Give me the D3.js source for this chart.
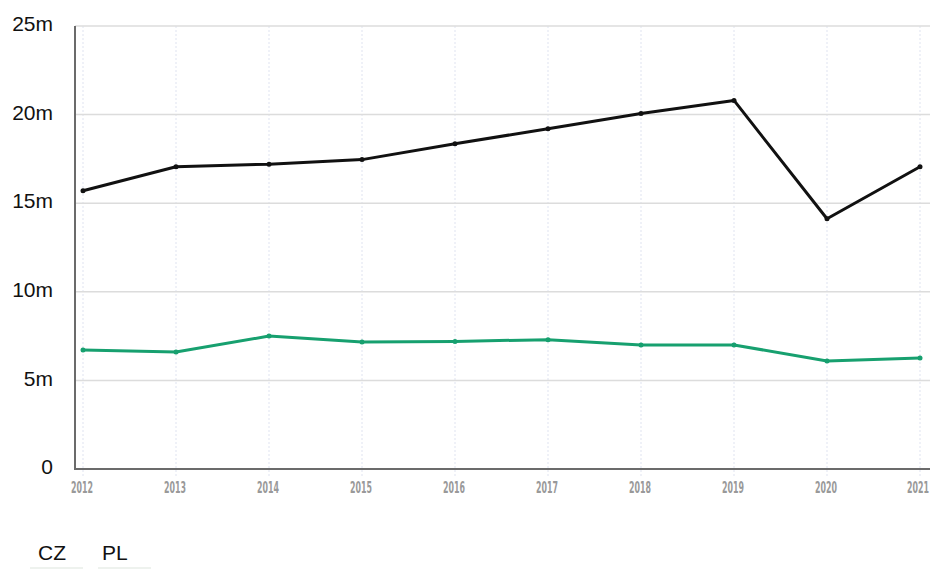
<!DOCTYPE html>
<html><head><meta charset="utf-8">
<script src="https://cdn.jsdelivr.net/npm/d3@7"></script>
<style>body{margin:0;background:#fff}svg{display:block}</style>
</head><body>
<svg id="c" width="932" height="569"></svg>
<script>
const years = [2012,2013,2014,2015,2016,2017,2018,2019,2020,2021];
const czValues = [15.7,17.06,17.2,17.46,18.36,19.2,20.06,20.8,14.12,17.06];
const plValues = [6.72,6.6,7.5,7.17,7.2,7.3,7.0,7.0,6.1,6.27];
const yTicks = [0,5,10,15,20,25];
const seriesNames = ["CZ","PL"];
const seriesColors = ["#111111","#17a06f"];

const svg = d3.select("#c");
const mLeft = 75, mRight = 930, mTop = 26, mBottom = 469;
const x = d3.scalePoint().domain(years).range([83, 920]);
const y = d3.scaleLinear().domain([0,25]).range([mBottom, mTop]);

// vertical grid
svg.append("g").selectAll("line").data(years).join("line")
  .attr("x1", d=>x(d)).attr("x2", d=>x(d)).attr("y1", mTop).attr("y2", mBottom+9)
  .attr("stroke","#dfe3f0").attr("stroke-width",1).attr("stroke-dasharray","2,2");
// horizontal grid
svg.append("g").selectAll("line").data(yTicks.filter(d=>d>0)).join("line")
  .attr("x1", mLeft).attr("x2", mRight).attr("y1", d=>y(d)).attr("y2", d=>y(d))
  .attr("stroke","#dcdcdc").attr("stroke-width",1.5);

// y axis
const yAxis = d3.axisLeft(y).tickValues(yTicks).tickSize(0).tickPadding(22)
  .tickFormat(d => d===0 ? "0" : d + "m");
const gy = svg.append("g").attr("transform",`translate(${mLeft},0)`).call(yAxis);
gy.select(".domain").remove();
gy.selectAll("text").attr("font-family","Liberation Sans, Arial, sans-serif")
  .attr("font-size",21).attr("fill","#111").attr("dy","0.22em");

// x axis
const xAxis = d3.axisBottom(x).tickSize(0).tickPadding(14);
const gx = svg.append("g").attr("transform",`translate(0,${mBottom})`).call(xAxis);
gx.select(".domain").remove();
const lastYear = years[years.length-1];
gx.selectAll("text").attr("font-family","DejaVu Sans Condensed, DejaVu Sans, sans-serif")
  .attr("font-weight","bold").attr("font-size",16).attr("fill","#999999")
  .attr("textLength",22).attr("lengthAdjust","spacingAndGlyphs")
  .attr("x", d => d===lastYear ? 8.5 : -1.5)
  .attr("text-anchor", d => d===lastYear ? "end" : "middle")
  .attr("dy","0.62em");

// axis lines
svg.append("path").attr("d",`M${mLeft},${mTop}V${mBottom}H${mRight}`)
  .attr("fill","none").attr("stroke","#6b6b6b").attr("stroke-width",2);

// lines
const line = d3.line().x((d,i)=>x(years[i])).y(d=>y(d));
[czValues, plValues].forEach((vals, k) => {
  svg.append("path").datum(vals).attr("d", line)
    .attr("fill","none").attr("stroke", seriesColors[k]).attr("stroke-width",3)
    .attr("stroke-linejoin","round");
  svg.append("g").selectAll("circle").data(vals).join("circle")
    .attr("cx",(d,i)=>x(years[i])).attr("cy",d=>y(d)).attr("r",2.5)
    .attr("fill", seriesColors[k]);
});

// legend
const lg = svg.append("g");
const lx = [30, 98];
const ltx = [38, 102];
seriesNames.forEach((n,i)=>{
  lg.append("text").attr("x", ltx[i]).attr("y", 560)
    .attr("font-family","Liberation Sans, Arial, sans-serif").attr("font-size",21)
    .attr("fill","#111").text(n);
  lg.append("line").attr("x1", lx[i]).attr("x2", lx[i]+53).attr("y1",568).attr("y2",568)
    .attr("stroke","#eef2ee").attr("stroke-width",2);
});
</script>
</body></html>
